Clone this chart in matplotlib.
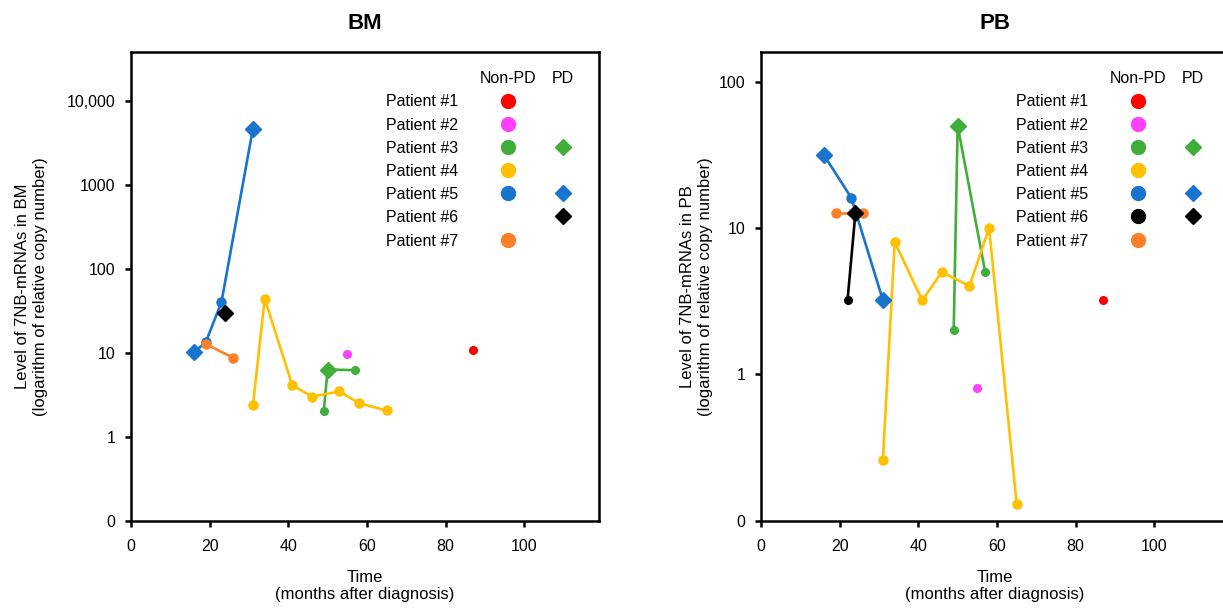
import matplotlib.pyplot as plt
from matplotlib.ticker import NullLocator

plt.rcParams['font.family'] = ['Liberation Sans', 'DejaVu Sans']

patients = ['Patient #1', 'Patient #2', 'Patient #3', 'Patient #4',
            'Patient #5', 'Patient #6', 'Patient #7']
colors = ['#FF0000', '#FF40FF', '#41AD3B', '#FFC000', '#1874CD', '#000000', '#FF7F27']
dot_size = [5.5, 5.5, 5.5, 6.5, 6.5, 5.5, 6.5]

# bone marrow: months after diagnosis, level, 1 = PD
bm_time = [[87], [55], [49, 50, 57], [31, 34, 41, 46, 53, 58, 65],
           [16, 19, 23, 31], [24], [19, 26]]
bm_level = [[10.9], [9.7], [2.0, 6.3, 6.2], [2.35, 44, 4.1, 3.0, 3.45, 2.5, 2.05],
            [10.1, 13.3, 40, 4700], [30], [12.7, 8.7]]
bm_pd = [[0], [0], [0, 1, 0], [0, 0, 0, 0, 0, 0, 0],
         [1, 0, 0, 1], [1], [0, 0]]

# peripheral blood
pb_time = [[87], [55], [49, 50, 57], [31, 34, 41, 46, 53, 58, 65],
           [16, 23, 31], [22, 24], [19, 26]]
pb_level = [[3.2], [0.8], [2.0, 50, 5.0], [0.26, 8.0, 3.2, 5.0, 4.0, 10.0, 0.13],
            [31.5, 16, 3.2], [3.2, 12.6], [12.6, 12.6]]
pb_pd = [[0], [0], [0, 1, 0], [0, 0, 0, 0, 0, 0, 0],
         [1, 0, 1], [0, 1], [0, 0]]

bm_ticks = [0.1, 1, 10, 100, 1000, 10000]
bm_ticklabels = ['0', '1', '10', '100', '1000', '10,000']
pb_ticks = [0.1, 1, 10, 100]
pb_ticklabels = ['0', '1', '10', '100']


def drawPanel(ax, title, times, levels, pds, ticks, ticklabels, ytop, site):
    for i in range(len(patients)):
        ax.plot(times[i], levels[i], color=colors[i], lw=1.9, zorder=2, clip_on=False)
        for t, v, p in zip(times[i], levels[i], pds[i]):
            if p:
                ax.plot(t, v, 'D', color=colors[i], ms=8.5, zorder=4, clip_on=False)
            else:
                ax.plot(t, v, 'o', color=colors[i], ms=dot_size[i], zorder=3, clip_on=False)

    # hand made legend
    ax.text(0.806, 0.945, 'Non-PD', transform=ax.transAxes, ha='center', va='center', fontsize=11.5)
    ax.text(0.923, 0.945, 'PD', transform=ax.transAxes, ha='center', va='center', fontsize=11.5)
    for i in range(len(patients)):
        y = 0.897 - i * 0.0495
        ax.text(0.545, y - 0.003, patients[i], transform=ax.transAxes, ha='left', va='center', fontsize=11.5)
        if 0 in pds[i]:
            ax.plot(0.806, y, 'o', color=colors[i], ms=10, transform=ax.transAxes, clip_on=False)
        if 1 in pds[i]:
            ax.plot(0.923, y, 'D', color=colors[i], ms=8, transform=ax.transAxes, clip_on=False)

    ax.set_yscale('log')
    ax.set_ylim(0.1, ytop)
    ax.set_yticks(ticks)
    ax.set_yticklabels(ticklabels)
    ax.yaxis.set_minor_locator(NullLocator())
    ax.set_xlim(0, 119)
    ax.set_xticks([0, 20, 40, 60, 80, 100])
    ax.tick_params(direction='out', length=4.5, width=1.8, labelsize=11.5, pad=6.5)
    ax.tick_params(axis='x', pad=9)
    for s in ax.spines.values():
        s.set_linewidth(1.8)
    ax.set_title(title, fontsize=16, fontweight='bold', pad=17)
    ax.set_xlabel('Time\n(months after diagnosis)', fontsize=12)
    ax.xaxis.set_label_coords(0.5, -0.105)
    ax.set_ylabel('Level of 7NB-mRNAs in ' + site + '\n(logarithm of relative copy number)', fontsize=12)


fig = plt.figure(figsize=(12.23, 6.12), dpi=100)
ax1 = fig.add_axes([131 / 1223, 0.1495, 468 / 1223, 0.765])
ax2 = fig.add_axes([761 / 1223, 0.1495, 468 / 1223, 0.765])

drawPanel(ax1, 'BM', bm_time, bm_level, bm_pd, bm_ticks, bm_ticklabels, 10 ** 4.58, 'BM')
drawPanel(ax2, 'PB', pb_time, pb_level, pb_pd, pb_ticks, pb_ticklabels, 10 ** 2.2, 'PB')
ax1.yaxis.set_label_coords(-0.178, 0.5)
ax2.yaxis.set_label_coords(-0.103, 0.5)

fig.savefig('out.png', dpi=100)
